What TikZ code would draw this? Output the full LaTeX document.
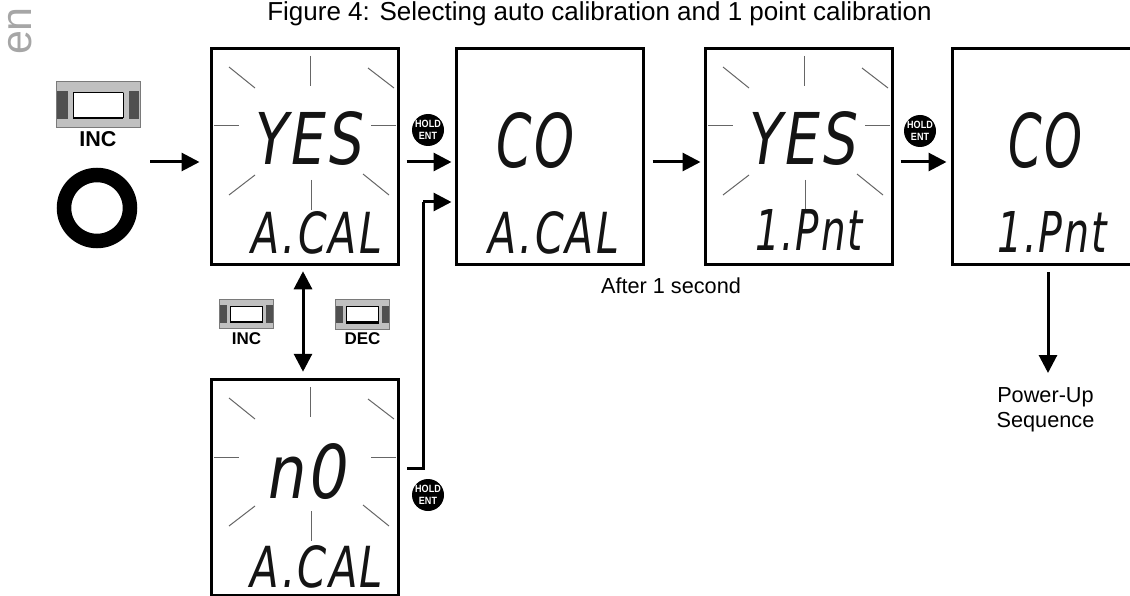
\documentclass[tikz,border=0pt]{standalone}
\usepackage{fontspec}
\usepackage{graphicx}
\setmainfont{Liberation Sans}
\newfontfamily\lcdfont[LetterSpace=5]{DejaVu Sans}
\usetikzlibrary{arrows.meta}
\definecolor{btnlight}{HTML}{C0C0C0}
\definecolor{btndark}{HTML}{505050}
\definecolor{btnedge}{HTML}{7A7A7A}
\definecolor{raycol}{HTML}{666666}
\definecolor{encol}{HTML}{A6A6A6}
\tikzset{
  lcdbox/.style={draw=black,line width=3pt,fill=white,rectangle,minimum width=187pt,minimum height=216.5pt,inner sep=0pt},
  ray/.style={draw=raycol,line width=1pt},
  flow/.style={draw=black,line width=3pt,-{Triangle[length=18pt,width=18pt]}},
  flowboth/.style={draw=black,line width=3pt,{Triangle[length=18pt,width=18pt]}-{Triangle[length=18pt,width=18pt]}},
  badge/.style={circle,fill=black,minimum size=32pt,inner sep=-6pt,text=white,align=center,font=\bfseries\fontsize{10.5}{12.5}\selectfont},
  lcdtext/.style={anchor=base,inner sep=0pt,text=black!92},
  plain/.style={inner sep=0pt,align=center,font=\fontsize{21.7}{25}\selectfont},
  btnlabel/.style={inner sep=0pt,font=\bfseries\fontsize{#1}{#1}\selectfont},
}
\newcommand\holdent{\scalebox{0.86}[1]{HOLD}\\[-1pt]\scalebox{0.86}[1]{ENT}}
% rays of a blinking display, relative to the box's top-left corner
\newcommand\lcdrays[2]{%
  \begin{scope}[shift={(#1,#2)}]
    \draw[ray] (99,8) -- (99,38);
    \draw[ray] (157,20) -- (183,40);
    \draw[ray] (18,19) -- (44,40);
    \draw[ray] (3,78) -- (28,78);
    \draw[ray] (160,78) -- (185,78);
    \draw[ray] (18,147) -- (44,127);
    \draw[ray] (100.5,132) -- (100.5,162);
    \draw[ray] (152,126) -- (178,147);
  \end{scope}}
% push button, drawn from its top-left corner
\newcommand\lcdbutton[3]{%
  \begin{scope}[shift={(#1,#2)},scale=#3]
    \fill[btnlight,draw=btnedge,line width=1pt] (0,0) rectangle (84,46);
    \fill[btndark] (1,9.5) rectangle (12,37);
    \fill[btndark] (72.5,9.5) rectangle (83,37);
    \fill[white,draw=btnedge,line width=1pt] (17,11) rectangle (67,36);
    \draw[black,line width=2.5pt] (17,36) -- (67,36);
    \draw[black,line width=1pt] (17,11) -- (67,11);
    \draw[black,line width=1pt] (17,11) -- (17,36) (67,11) -- (67,36);
  \end{scope}}
% real text fitted to the width and height it has in the display
\newcommand\lcdword[6]{%
  \node[lcdtext] (#1) at (#2,#3) {\resizebox{#4pt}{#5pt}{\lcdfont\itshape #6}};}
\begin{document}
\begin{tikzpicture}[x=1pt,y=-1pt]
\useasboundingbox (0,0) rectangle (1130,596);

\node[inner sep=0pt,rotate=90,text=encol,font=\fontsize{43}{43}\selectfont] (lang) at (20,31) {en};
\node[inner sep=0pt,font=\fontsize{26}{30}\selectfont] (title) at (599.5,14) {Figure 4: Selecting auto calibration and 1 point calibration};

% display boxes
\node[lcdbox] (box1) at (304.5,156.5) {};
\node[lcdbox] (box2) at (549.5,156.5) {};
\node[lcdbox] (box3) at (798.5,156.5) {};
\node[lcdbox] (box4) at (1045.5,156.5) {};
\node[lcdbox] (box5) at (305,487.5) {};

\lcdrays{211}{48}
\lcdrays{705}{48}
\lcdrays{211}{379}

\lcdword{d1a}{310}{165}{109}{53}{YES}
\lcdword{d1b}{317}{253}{130}{42}{A.CAL}
\lcdword{d2a}{535}{168}{78}{55}{CO}
\lcdword{d2b}{554}{253}{130}{42}{A.CAL}
\lcdword{d3a}{804}{165}{109}{53}{YES}
\lcdword{d3b}{809}{251}{108}{41}{1.Pnt}
\lcdword{d4a}{1045}{168}{74}{55}{CO}
\lcdword{d4b}{1052}{253}{110}{41}{1.Pnt}
\lcdword{d5a}{309}{498}{80}{55}{n0}
\lcdword{d5b}{317}{587}{132}{42}{A.CAL}

% buttons and their labels
\lcdbutton{56}{82}{1}
\node[btnlabel=21.5] (inc1) at (98,139) {INC};
\node[circle,draw=black,line width=14.5pt,minimum size=66pt,inner sep=0pt] (ring) at (97,208) {};
\lcdbutton{219.5}{299}{0.645}
\node[btnlabel=17] (inc2) at (246.5,339) {INC};
\lcdbutton{335.5}{299.5}{0.645}
\node[btnlabel=17] (dec) at (362.5,339) {DEC};

% hold / enter badges
\node[badge] (h1) at (428,130) {\holdent};
\node[badge] (h2) at (428,495) {\holdent};
\node[badge] (h3) at (920,131) {\holdent};

% captions
\node[plain] (after) at (671,286) {After 1 second};
\node[plain] (power) at (1045.5,409.5) {Power-Up\\Sequence};

% connectors
\coordinate (start) at (150,162);
\coordinate (elbow) at (423,468);
\coordinate (upin) at (423,202);
\draw[flow,shorten >=10pt] (start) -- (start -| box1.west);
\draw[flow,shorten <=7pt,shorten >=3pt] ([yshift=-5.5pt]box1.east) -- ([yshift=-5.5pt]box2.west);
\draw[flow,shorten <=8pt,shorten >=3pt] ([yshift=-5.5pt]box2.east) -- ([yshift=-5.5pt]box3.west);
\draw[flow,shorten <=7pt,shorten >=4pt] ([yshift=-5.5pt]box3.east) -- ([yshift=-5.5pt]box4.west);
\draw[flow,shorten >=3pt] (upin) -- (upin -| box2.west);
\draw[draw=black,line width=3pt,line join=miter,shorten <=7pt] (elbow -| box5.east) -- (elbow) -- (upin);
\draw[flowboth,shorten <=5pt,shorten >=6pt] (box1.south -| 303,0) -- (box5.north -| 303,0);
\draw[flow,shorten <=6pt] (box4.south -| 1048,0) -- (1048,373);
\end{tikzpicture}
\end{document}
